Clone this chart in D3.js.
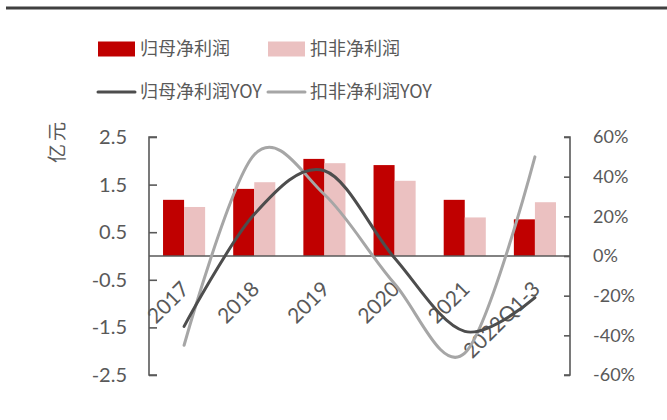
<!DOCTYPE html>
<html>
<head>
<meta charset="utf-8">
<script src="https://cdn.jsdelivr.net/npm/d3@7"></script>
<style>
  html, body { margin: 0; padding: 0; background: #fff; }
  svg { display: block; }
</style>
</head>
<body>
<svg id="chart" width="667" height="420"></svg>
<script>
// Net profit (亿元) and year-on-year growth (%)
const categories = ["2017", "2018", "2019", "2020", "2021", "2022Q1-3"];
const netProfit = [1.18, 1.41, 2.04, 1.91, 1.18, 0.77];        // 归母净利润
const netProfitDeducted = [1.03, 1.55, 1.95, 1.58, 0.81, 1.13]; // 扣非净利润
const netProfitYoY = [-35.5, 21, 43, -1, -38, -21];            // 归母净利润YOY
const netProfitDeductedYoY = [-45, 51, 31, -14, -49, 50];      // 扣非净利润YOY
const leftTicks = [2.5, 1.5, 0.5, -0.5, -1.5, -2.5];
const rightTicks = [60, 40, 20, 0, -20, -40, -60];

const svg = d3.select("#chart");
const numFont = "Lato, 'Noto Sans CJK SC', sans-serif";
const cjkFont = "'Noto Sans CJK SC', sans-serif";
const axisColor = "#595959";
const textColor = "#595959";

const plotLeft = 149, plotRight = 570, plotTop = 137, plotBottom = 375;

const x = d3.scaleBand().domain(categories).range([plotLeft, plotRight]).padding(0);
const xSub = d3.scaleBand().domain([0, 1]).range([x.bandwidth() * 0.2, x.bandwidth() * 0.8]).padding(0);
const yL = d3.scaleLinear().domain([-2.5, 2.5]).range([plotBottom, plotTop]);
const yR = d3.scaleLinear().domain([-60, 60]).range([plotBottom, plotTop]);

// plain hyphen for negative numbers
const fmtL = d => d3.format(".1f")(d).replace("\u2212", "-");
const fmtR = d => String(d).replace("\u2212", "-") + "%";

// top rule
svg.append("line")
  .attr("x1", 6).attr("x2", 667).attr("y1", 8).attr("y2", 8)
  .attr("stroke", "#404040").attr("stroke-width", 3);

// bars
const barSeries = [
  { values: netProfit, color: "#C00000" },
  { values: netProfitDeducted, color: "#EBC1C1" }
];
barSeries.forEach((s, si) => {
  svg.append("g").selectAll("rect")
    .data(s.values)
    .join("rect")
    .attr("x", (d, i) => x(categories[i]) + xSub(si))
    .attr("width", xSub.bandwidth())
    .attr("y", d => Math.min(yL(d), yL(0)))
    .attr("height", d => Math.abs(yL(d) - yL(0)))
    .attr("fill", s.color);
});

// zero line
svg.append("line")
  .attr("x1", plotLeft).attr("x2", plotRight)
  .attr("y1", yL(0)).attr("y2", yL(0))
  .attr("stroke", axisColor).attr("stroke-width", 1.3);

// left axis (ticks point inward)
const axL = d3.axisLeft(yL).tickValues(leftTicks).tickSize(-8).tickPadding(22)
  .tickFormat(fmtL);
const gL = svg.append("g").attr("transform", `translate(${plotLeft},0)`).call(axL);
gL.select(".domain").attr("stroke", axisColor).attr("stroke-width", 1.6)
  .attr("d", `M8,${plotTop}H0V${plotBottom}H8`);
gL.selectAll(".tick line").attr("stroke", axisColor).attr("stroke-width", 1.6);
gL.selectAll(".tick text").attr("fill", textColor).attr("font-family", numFont).attr("font-size", 20)
  .attr("text-anchor", "end").attr("x", -22);

// right axis (ticks point inward)
const axR = d3.axisRight(yR).tickValues(rightTicks).tickSize(-6).tickPadding(23)
  .tickFormat(fmtR);
const gR = svg.append("g").attr("transform", `translate(${plotRight},0)`).call(axR);
gR.select(".domain").attr("stroke", axisColor).attr("stroke-width", 1.6)
  .attr("d", `M-6,${plotTop}H0V${plotBottom}H-6`);
gR.selectAll(".tick line").attr("stroke", axisColor).attr("stroke-width", 1.6);
gR.selectAll(".tick text").attr("fill", textColor).attr("font-family", numFont).attr("font-size", 18);

// left axis title
svg.append("text")
  .attr("transform", "translate(64,141) rotate(-90)")
  .attr("text-anchor", "middle")
  .attr("fill", textColor)
  .attr("font-family", cjkFont).attr("font-size", 19)
  .attr("letter-spacing", 3)
  .text("亿元");

// category labels
svg.append("g").selectAll("text")
  .data(categories)
  .join("text")
  .attr("transform", d => `translate(${x(d) + x.bandwidth() / 2 - 4},${yL(0) + 24}) rotate(-45)`)
  .attr("text-anchor", "end")
  .attr("dy", "0.7em")
  .attr("fill", textColor)
  .attr("font-family", numFont).attr("font-size", 21)
  .text(d => d);

// YoY lines
const cx = c => x(c) + x.bandwidth() / 2;
const line = d3.line()
  .x((d, i) => cx(categories[i]))
  .y(d => yR(d))
  .curve(d3.curveCardinal.tension(0));

svg.append("path").datum(netProfitDeductedYoY)
  .attr("d", line).attr("fill", "none")
  .attr("stroke", "#A6A6A6").attr("stroke-width", 3).attr("stroke-linecap", "round");
svg.append("path").datum(netProfitYoY)
  .attr("d", line).attr("fill", "none")
  .attr("stroke", "#4D4D4D").attr("stroke-width", 3).attr("stroke-linecap", "round");

// legend
const legend = [
  { label: "归母净利润", type: "rect", color: "#C00000", x: 98, y: 49 },
  { label: "扣非净利润", type: "rect", color: "#EBC1C1", x: 268, y: 49 },
  { label: "归母净利润YOY", type: "line", color: "#4D4D4D", x: 98, y: 92 },
  { label: "扣非净利润YOY", type: "line", color: "#A6A6A6", x: 268, y: 92 }
];
const lg = svg.append("g").selectAll("g").data(legend).join("g")
  .attr("transform", d => `translate(${d.x},${d.y})`);
lg.filter(d => d.type === "rect").append("rect")
  .attr("x", 0).attr("y", -7.5).attr("width", 37).attr("height", 15)
  .attr("fill", d => d.color);
lg.filter(d => d.type === "line").append("line")
  .attr("x1", 0).attr("x2", 37).attr("y1", 0).attr("y2", 0)
  .attr("stroke", d => d.color).attr("stroke-width", 3).attr("stroke-linecap", "round");
lg.append("text")
  .attr("x", 42).attr("dy", "0.35em")
  .attr("fill", textColor)
  .attr("font-family", cjkFont).attr("font-size", 18)
  .text(d => d.label);
</script>
</body>
</html>
